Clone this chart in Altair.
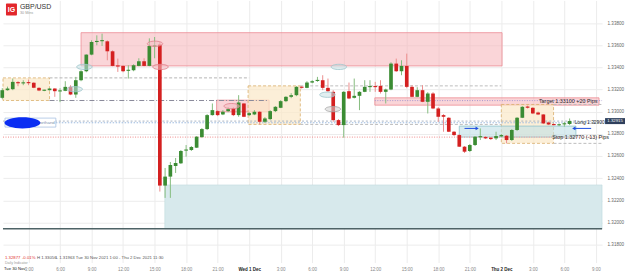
import altair as alt
import pandas as pd

# ---------------- GBP/USD 30-minute candles ----------------
opens = [1.33125, 1.33194, 1.33203, 1.33266, 1.33257, 1.33263, 1.33262, 1.33215, 1.33191, 1.33194,
         1.33209, 1.33185, 1.33188, 1.33224, 1.33155, 1.33284, 1.33365, 1.33515, 1.33629, 1.33638,
         1.33635, 1.33545, 1.33415, 1.33413, 1.33370, 1.33374, 1.33413, 1.33455, 1.33413, 1.33590,
         1.33605, 1.32333, 1.32414, 1.32510, 1.32534, 1.32650, 1.32654, 1.32675, 1.32771, 1.32843,
         1.32969, 1.33005, 1.32975, 1.33005, 1.33029, 1.32969, 1.33074, 1.32969, 1.32975, 1.32999,
         1.32909, 1.32933, 1.33005, 1.33035, 1.33095, 1.33134, 1.33149, 1.33224, 1.33215, 1.33263,
         1.33280, 1.33284, 1.33215, 1.33179, 1.32924, 1.32879, 1.33185, 1.33125, 1.33143, 1.33179,
         1.33226, 1.33227, 1.33233, 1.33179, 1.33200, 1.33434, 1.33365, 1.33413, 1.33224, 1.33134,
         1.33194, 1.33089, 1.33164, 1.33029, 1.32969, 1.32945, 1.32819, 1.32789, 1.32684, 1.32645,
         1.32699, 1.32771, 1.32771, 1.32765, 1.32759, 1.32777, 1.32783, 1.32744, 1.32834, 1.32945,
         1.33047, 1.33035, 1.32993, 1.32975, 1.32903, 1.32888, 1.32879, 1.32888, 1.32888]
highs = [1.33212, 1.33226, 1.33299, 1.33275, 1.33284, 1.33290, 1.33266, 1.33221, 1.33199, 1.33212,
         1.33212, 1.33212, 1.33275, 1.33239, 1.33314, 1.33374, 1.33518, 1.33644, 1.33689, 1.33704,
         1.33644, 1.33554, 1.33479, 1.33419, 1.33419, 1.33428, 1.33482, 1.33482, 1.33662, 1.33674,
         1.33629, 1.32492, 1.32546, 1.32582, 1.32654, 1.32699, 1.32690, 1.32780, 1.32852, 1.32978,
         1.33074, 1.33014, 1.33014, 1.33041, 1.33041, 1.33149, 1.33077, 1.32996, 1.33014, 1.33005,
         1.32951, 1.33014, 1.33050, 1.33104, 1.33140, 1.33167, 1.33230, 1.33230, 1.33275, 1.33284,
         1.33314, 1.33329, 1.33299, 1.33194, 1.32933, 1.33185, 1.33263, 1.33299, 1.33185, 1.33284,
         1.33284, 1.33269, 1.33284, 1.33208, 1.33446, 1.33479, 1.33464, 1.33524, 1.33239, 1.33221,
         1.33239, 1.33176, 1.33176, 1.33041, 1.32978, 1.32951, 1.32825, 1.32798, 1.32690, 1.32708,
         1.32780, 1.32849, 1.32780, 1.32771, 1.32819, 1.32798, 1.32789, 1.32843, 1.32951, 1.33050,
         1.33055, 1.33041, 1.33001, 1.32978, 1.32911, 1.32893, 1.32893, 1.32909, 1.32939]
lows = [1.33113, 1.33190, 1.33194, 1.33230, 1.33239, 1.33239, 1.33212, 1.33185, 1.33185, 1.33190,
        1.33134, 1.33086, 1.33185, 1.33149, 1.33125, 1.33275, 1.33356, 1.33509, 1.33599, 1.33593,
        1.33464, 1.33410, 1.33359, 1.33356, 1.33299, 1.33365, 1.33410, 1.33410, 1.33410, 1.33482,
        1.32279, 1.32222, 1.32222, 1.32447, 1.32528, 1.32594, 1.32645, 1.32672, 1.32762, 1.32834,
        1.32965, 1.32960, 1.32969, 1.32996, 1.32960, 1.32954, 1.32951, 1.32960, 1.32969, 1.32885,
        1.32897, 1.32924, 1.32996, 1.33032, 1.33086, 1.33122, 1.33140, 1.33208, 1.33212, 1.33257,
        1.33269, 1.33194, 1.33179, 1.32909, 1.32870, 1.32765, 1.33113, 1.33119, 1.33014, 1.33176,
        1.33179, 1.33179, 1.33164, 1.33074, 1.33194, 1.33359, 1.33329, 1.33212, 1.33131, 1.33131,
        1.33086, 1.32984, 1.33023, 1.32909, 1.32819, 1.32816, 1.32780, 1.32681, 1.32627, 1.32636,
        1.32690, 1.32744, 1.32753, 1.32744, 1.32744, 1.32771, 1.32714, 1.32735, 1.32825, 1.32942,
        1.33028, 1.32978, 1.32969, 1.32888, 1.32879, 1.32875, 1.32870, 1.32864, 1.32879]
closes = [1.33194, 1.33209, 1.33269, 1.33257, 1.33263, 1.33261, 1.33215, 1.33191, 1.33196, 1.33209,
          1.33185, 1.33190, 1.33224, 1.33155, 1.33284, 1.33365, 1.33515, 1.33629, 1.33638, 1.33644,
          1.33545, 1.33413, 1.33410, 1.33365, 1.33377, 1.33419, 1.33455, 1.33413, 1.33593, 1.33599,
          1.32333, 1.32414, 1.32519, 1.32537, 1.32645, 1.32657, 1.32681, 1.32774, 1.32843, 1.32969,
          1.33014, 1.32969, 1.32999, 1.33023, 1.32969, 1.33083, 1.32954, 1.32987, 1.32999, 1.32909,
          1.32939, 1.33005, 1.33044, 1.33095, 1.33134, 1.33149, 1.33224, 1.33217, 1.33263, 1.33275,
          1.33284, 1.33215, 1.33185, 1.32924, 1.32879, 1.33179, 1.33119, 1.33143, 1.33179, 1.33224,
          1.33227, 1.33226, 1.33179, 1.33200, 1.33434, 1.33365, 1.33413, 1.33224, 1.33134, 1.33194,
          1.33089, 1.33164, 1.33029, 1.32954, 1.32954, 1.32819, 1.32789, 1.32684, 1.32639, 1.32699,
          1.32774, 1.32777, 1.32759, 1.32753, 1.32780, 1.32789, 1.32744, 1.32834, 1.32945, 1.33044,
          1.33035, 1.32984, 1.32975, 1.32894, 1.32885, 1.32879, 1.32885, 1.32893, 1.32915]
times = pd.date_range("2021-11-30 00:30", periods=len(opens), freq="30min")

# ---------------- axis ticks ----------------
y_ticks = [1.318, 1.320, 1.322, 1.324, 1.326, 1.328, 1.330, 1.332, 1.334, 1.336, 1.338]
x_ticks = [3, 6, 9, 12, 15, 18, 21, 24, 27, 30, 33, 36, 39, 42, 45, 48, 51, 54, 57]  # hours since Tue 30 Nov 0:00

# ---------------- drawn zones (hours, prices) ----------------
beige_t0 = [0.57, 23.9, 48.0]
beige_t1 = [5.0, 28.87, 52.97]
beige_lo = [1.33101, 1.32885, 1.32714]
beige_hi = [1.33305, 1.33233, 1.33065]

red_t0 = [8.0, 20.9, 35.96]
red_t1 = [48.07, 25.9, 57.3]
red_lo = [1.33413, 1.32999, 1.33059]
red_hi = [1.33713, 1.33104, 1.33125]

teal_big = [15.97, 57.59, 1.31943, 1.32339]
teal_small = [44.0, 55.1, 1.32771, 1.32870]

# ellipses
ell_t = [8.32, 7.4, 15.04, 15.56, 22.34, 32.54, 31.45, 31.97]
ell_p = [1.33404, 1.33203, 1.33613, 1.33404, 1.33050, 1.33404, 1.33153, 1.33023]
ell_kind = ["teal", "teal", "pink", "pink", "pink", "teal", "teal", "grey"]

# trade levels
target_price = 1.33100
entry_price = 1.32900
stop_price = 1.32770
last_price = 1.32915

T0 = pd.Timestamp("2021-11-30 00:00")
hours = [(t - T0).total_seconds() / 3600 for t in times]

df = pd.DataFrame({"t": hours, "open": opens, "high": highs, "low": lows, "close": closes})
df["up"] = df["close"] >= df["open"]
df["top"] = df[["open", "close"]].max(axis=1)
df["bot"] = df[["open", "close"]].min(axis=1)
mid = (df["top"] + df["bot"]) / 2
small = (df["top"] - df["bot"]) < 0.0001
df.loc[small, "top"] = mid[small] + 0.00005
df.loc[small, "bot"] = mid[small] - 0.00005
df["l"] = df["t"] - 0.175
df["r"] = df["t"] + 0.175

FONT = "Liberation Sans"
GREEN = "#3b8c33"
RED = "#d42020"

xs = alt.Scale(domain=[0.57, 57.59], nice=False, zero=False)
ys = alt.Scale(domain=[1.31638, 1.34004], nice=False, zero=False)
xax = alt.Axis(values=x_ticks, title=None, domain=False, ticks=False, labelPadding=4,
               labelFontSize=4.5, labelFont=FONT, labelOverlap=False,
               labelExpr="datum.value == 24 ? 'Wed 1 Dec' : datum.value == 48 ? 'Thu 2 Dec' : (datum.value % 24) + ':00'",
               labelColor=alt.condition("datum.value % 24 == 0", alt.value("#222222"), alt.value("#888888")),
               labelFontWeight=alt.condition("datum.value % 24 == 0", alt.value("bold"), alt.value("normal")),
               grid=True, gridColor="#ececec", gridWidth=1)
yax = alt.Axis(values=y_ticks, orient="right", format=".5f", title=None, domain=False, ticks=False,
               labelPadding=5, labelFontSize=4.6, labelFont=FONT, labelColor="#666666",
               labelOverlap=False, grid=True, gridColor="#ececec", gridWidth=1)


def X(f):
    return alt.X(f, type="quantitative", scale=xs, axis=xax)


def Y(f):
    return alt.Y(f, type="quantitative", scale=ys, axis=yax)


layers = []

# teal big zone
tb = pd.DataFrame({"t0": [teal_big[0]], "t1": [teal_big[1]], "lo": [teal_big[2]], "hi": [teal_big[3]]})
layers.append(alt.Chart(tb).mark_rect(fill="#d7e9ec", stroke="#b9d6db", strokeWidth=0.5).encode(
    x=X("t0"), x2="t1", y=Y("lo"), y2="hi"))
# dark base line
base_df = pd.DataFrame({"t0": [0.57], "t1": [57.59], "p": [teal_big[2]]})
layers.append(alt.Chart(base_df).mark_rule(color="#4e6366", strokeWidth=1.6).encode(
    x=X("t0"), x2="t1", y=Y("p")))

# red resistance zones
rz = pd.DataFrame({"t0": red_t0, "t1": red_t1, "lo": red_lo, "hi": red_hi})
layers.append(alt.Chart(rz).mark_rect(fill="#f6b3b8", fillOpacity=0.55, stroke="#ec8d95", strokeWidth=0.8).encode(
    x=X("t0"), x2="t1", y=Y("lo"), y2="hi"))

# beige boxes
bz = pd.DataFrame({"t0": beige_t0, "t1": beige_t1, "lo": beige_lo, "hi": beige_hi})
layers.append(alt.Chart(bz).mark_rect(fill="#fbe8c8", fillOpacity=0.7, stroke="#d9ae6c", strokeWidth=0.8,
                                      strokeDash=[3, 2]).encode(
    x=X("t0"), x2="t1", y=Y("lo"), y2="hi"))

# teal small zone
ts = pd.DataFrame({"t0": [teal_small[0]], "t1": [teal_small[1]], "lo": [teal_small[2]], "hi": [teal_small[3]]})
layers.append(alt.Chart(ts).mark_rect(fill="#bfe0e6", fillOpacity=0.6, stroke="#8fc3cc", strokeWidth=0.8).encode(
    x=X("t0"), x2="t1", y=Y("lo"), y2="hi"))


def hline(t0, t1, p, color, dash, width=1.0):
    d = pd.DataFrame({"t0": [t0], "t1": [t1], "p": [p]})
    return alt.Chart(d).mark_rule(color=color, strokeDash=dash, strokeWidth=width).encode(
        x=X("t0"), x2="t1", y=Y("p"))


# extension lines of the boxes
layers.append(hline(beige_t1[0], 24.0, beige_hi[0], "#b5b5b5", [3, 2]))
layers.append(hline(beige_t1[0], 25.8, beige_lo[0], "#8a8a9a", [5, 2, 1, 2]))
layers.append(hline(beige_t1[1], beige_t0[2], beige_hi[1], "#bdbdbd", [3, 2]))
layers.append(hline(beige_t1[1], beige_t0[2], beige_lo[1], "#bdbdbd", [3, 2]))
layers.append(hline(beige_t1[2], 57.59, beige_hi[2], "#bdbdbd", [3, 2]))
layers.append(hline(beige_t1[2], 57.59, beige_lo[2], "#bdbdbd", [3, 2]))
# trade levels
layers.append(hline(red_t0[2], 57.59, target_price, "#a596cf", [1, 1.5]))
layers.append(hline(0.57, 57.59, stop_price, "#f2a2a2", [1, 1.5], 1.2))
layers.append(hline(0.57, 57.59, last_price, "#a9b4c2", [2, 2]))
layers.append(hline(5.6, 57.59, entry_price, "#9ebbe0", [1.5, 1.5]))

# candles: wicks
layers.append(alt.Chart(df).mark_rule(strokeWidth=1).encode(
    x=X("t"), y=Y("low"), y2="high",
    color=alt.condition("datum.up", alt.value("#86bd7f"), alt.value("#ec8e8e"))))
# candles: bodies
layers.append(alt.Chart(df).mark_rect().encode(
    x=X("l"), x2="r", y=Y("bot"), y2="top",
    color=alt.condition("datum.up", alt.value(GREEN), alt.value(RED))))

# ellipses
ELL = "M-1,0A1,0.34,0,1,1,1,0A1,0.34,0,1,1,-1,0Z"
ed = pd.DataFrame({"t": ell_t, "p": ell_p, "kind": ell_kind})
layers.append(alt.Chart(ed).mark_point(shape=ELL, size=240, filled=True, fillOpacity=0.55, strokeWidth=0.8,
                                       strokeOpacity=1).encode(
    x=X("t"), y=Y("p"),
    fill=alt.Fill("kind:N", scale=alt.Scale(domain=["teal", "pink", "grey"],
                                            range=["#c9e1e5", "#f4bcc2", "#d2d2d2"]), legend=None),
    stroke=alt.Stroke("kind:N", scale=alt.Scale(domain=["teal", "pink", "grey"],
                                                range=["#9ec5cc", "#e0808a", "#a6a6a6"]), legend=None)))

# blue alert marker at the left
lab = pd.DataFrame({"t0": [0.76], "t1": [5.6], "lo": [1.32861], "hi": [1.32942], "tx": [5.5], "p": [1.32901]})
layers.append(alt.Chart(lab).mark_rect(fill="white", stroke="#a9c2e2", strokeWidth=0.8).encode(
    x=X("t0"), x2="t1", y=Y("lo"), y2="hi"))
layers.append(alt.Chart(lab).mark_text(text="Shorthand", align="right", baseline="middle", fontSize=4.4,
                                       font=FONT, color="#7f93b0").encode(x=X("tx"), y=Y("p")))
blue = pd.DataFrame({"t": [2.42], "p": [1.32899]})
layers.append(alt.Chart(blue).mark_point(shape="M-1,0A1,0.31,0,1,1,1,0A1,0.31,0,1,1,-1,0Z", size=1300,
                                         filled=True, color="#0a2df2", opacity=1).encode(x=X("t"), y=Y("p")))

# blue arrows
arrow_t0 = [44.5, 54.9]
arrow_t1 = [45.7, 56.55]
arrow_p = [1.32849, 1.32849]
ad = pd.DataFrame({"t0": arrow_t0, "t1": arrow_t1, "p": arrow_p})
layers.append(alt.Chart(ad).mark_rule(color="#1f4fe0", strokeWidth=1).encode(x=X("t0"), x2="t1", y=Y("p")))
hr = pd.DataFrame({"t": [arrow_t1[0]], "p": [arrow_p[0]]})
hl = pd.DataFrame({"t": [arrow_t0[1]], "p": [arrow_p[1]]})
layers.append(alt.Chart(hr).mark_point(shape="triangle-right", size=14, filled=True, color="#1f4fe0",
                                       opacity=1).encode(x=X("t"), y=Y("p")))
layers.append(alt.Chart(hl).mark_point(shape="triangle-left", size=14, filled=True, color="#1f4fe0",
                                       opacity=1).encode(x=X("t"), y=Y("p")))

# trade level labels
lbl = pd.DataFrame({"t": [51.58, 52.85], "p": [target_price, stop_price],
                    "txt": ["Target 1.33100 +20 Pips", "Stop 1.32770 (-13) Pips"]})
layers.append(alt.Chart(lbl).mark_text(align="left", baseline="middle", fontSize=5.4, font=FONT,
                                       color="#2a2a2a").encode(x=X("t"), y=Y("p"), text="txt:N"))
lng = pd.DataFrame({"t": [55.0], "p": [entry_price], "txt": ["Long 1.32900"]})
layers.append(alt.Chart(lng).mark_text(align="left", baseline="middle", fontSize=4.9, font=FONT,
                                       color="#2a2a2a").encode(x=X("t"), y=Y("p"), text="txt:N"))

# current price box on the right axis
cp = pd.DataFrame({"lo": [last_price - 0.00027], "hi": [last_price + 0.00027], "p": [last_price],
                   "txt": ["1.32915"]})
layers.append(alt.Chart(cp).mark_rect(color="#2e3f5c").encode(
    x=alt.value(604), x2=alt.value(624), y=Y("lo"), y2="hi"))
layers.append(alt.Chart(cp).mark_text(align="center", baseline="middle", fontSize=4.3, font=FONT,
                                      color="white").encode(x=alt.value(614), y=Y("p"), text="txt:N"))

# header: logo + instrument
one = pd.DataFrame({"a": [0]})
layers.append(alt.Chart(one).mark_rect(color="#e2262b", cornerRadius=1).encode(
    x=alt.value(3), x2=alt.value(14), y=alt.value(3), y2=alt.value(15)))
layers.append(alt.Chart(one).mark_text(text="IG", fontSize=7, fontWeight="bold", font=FONT, color="white",
                                       align="center", baseline="middle").encode(x=alt.value(8.5), y=alt.value(9.3)))
layers.append(alt.Chart(one).mark_text(text="GBP/USD", fontSize=7, font=FONT, color="#333333",
                                       align="left", baseline="middle").encode(x=alt.value(17), y=alt.value(7)))
layers.append(alt.Chart(one).mark_text(text="30 Mins", fontSize=3.8, font=FONT, color="#999999",
                                       align="left", baseline="middle").encode(x=alt.value(17), y=alt.value(12.5)))

# footer info line
info_txt = ["1.32877", "-0.01%", "H 1.33056", "L 1.31963", "Tue 30 Nov 2021 1:00 - Thu 2 Dec 2021 11:30"]
info_col = ["#e03030", "#e03030", "#555555", "#555555", "#555555"]
info_x = [2, 19, 34, 53, 73]
for txt, col, xx in zip(info_txt, info_col, info_x):
    layers.append(alt.Chart(one).mark_text(text=txt, fontSize=4.3, font=FONT, color=col, align="left",
                                           baseline="middle").encode(x=alt.value(xx), y=alt.value(258.5)))
layers.append(alt.Chart(one).mark_text(text="Daily Indicator", fontSize=3.6, font=FONT, color="#999999",
                                       align="left", baseline="middle").encode(x=alt.value(2), y=alt.value(263.5)))
layers.append(alt.Chart(one).mark_text(text="Tue 30 Nov", fontSize=4.2, font=FONT,
                                       color="#222222", align="left", baseline="top").encode(
    x=alt.value(1), y=alt.value(267)))

chart = alt.layer(*layers).properties(
    width=601, height=263,
    padding={"left": 0, "top": 0, "right": 0, "bottom": 0},
).configure_view(stroke=None)

chart.save("out.html", embed_options={"renderer": "svg", "actions": False})
